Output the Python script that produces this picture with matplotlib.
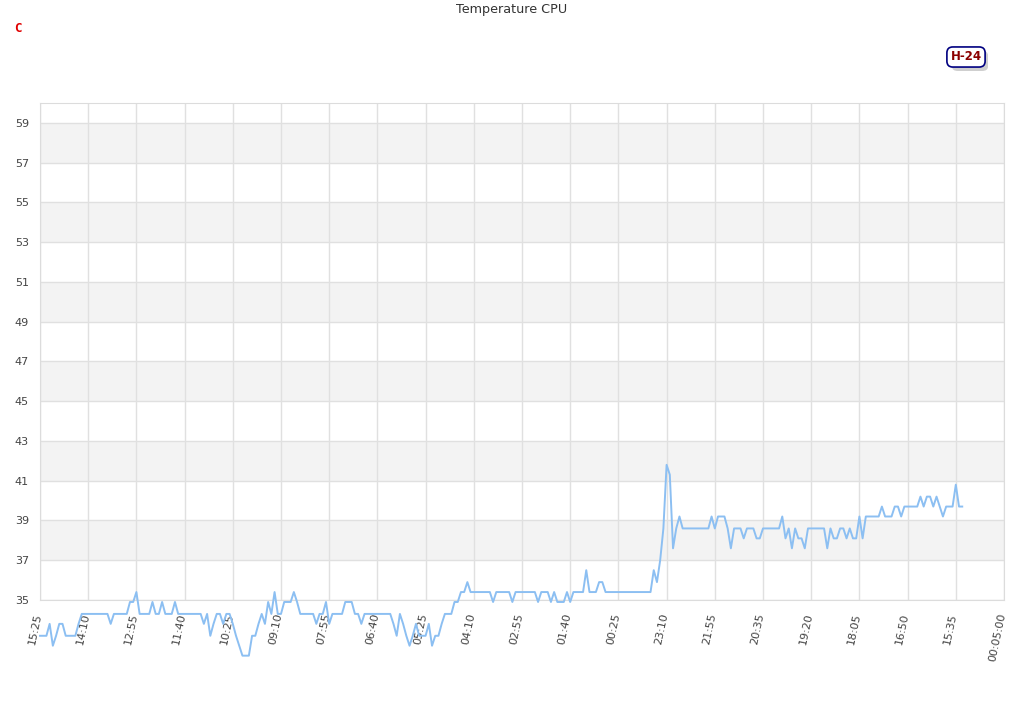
import matplotlib
matplotlib.use("Agg")
import matplotlib.pyplot as plt
from matplotlib import transforms
from matplotlib.patches import FancyBboxPatch

# temperature readings, one every 5 minutes (15 per tick interval)
temps = [
    33.2, 33.2, 33.2, 33.8, 32.7, 33.2, 33.8, 33.8, 33.2, 33.2, 33.2, 33.2, 33.8, 34.3, 34.3,
    34.3, 34.3, 34.3, 34.3, 34.3, 34.3, 34.3, 33.8, 34.3, 34.3, 34.3, 34.3, 34.3, 34.9, 34.9,
    35.4, 34.3, 34.3, 34.3, 34.3, 34.9, 34.3, 34.3, 34.9, 34.3, 34.3, 34.3, 34.9, 34.3, 34.3,
    34.3, 34.3, 34.3, 34.3, 34.3, 34.3, 33.8, 34.3, 33.2, 33.8, 34.3, 34.3, 33.8, 34.3, 34.3,
    33.8, 33.2, 32.7, 32.2, 32.2, 32.2, 33.2, 33.2, 33.8, 34.3, 33.8, 34.9, 34.3, 35.4, 34.3,
    34.3, 34.9, 34.9, 34.9, 35.4, 34.9, 34.3, 34.3, 34.3, 34.3, 34.3, 33.8, 34.3, 34.3, 34.9,
    33.8, 34.3, 34.3, 34.3, 34.3, 34.9, 34.9, 34.9, 34.3, 34.3, 33.8, 34.3, 34.3, 34.3, 34.3,
    34.3, 34.3, 34.3, 34.3, 34.3, 33.8, 33.2, 34.3, 33.8, 33.2, 32.7, 33.2, 33.8, 33.2, 33.2,
    33.2, 33.8, 32.7, 33.2, 33.2, 33.8, 34.3, 34.3, 34.3, 34.9, 34.9, 35.4, 35.4, 35.9, 35.4,
    35.4, 35.4, 35.4, 35.4, 35.4, 35.4, 34.9, 35.4, 35.4, 35.4, 35.4, 35.4, 34.9, 35.4, 35.4,
    35.4, 35.4, 35.4, 35.4, 35.4, 34.9, 35.4, 35.4, 35.4, 34.9, 35.4, 34.9, 34.9, 34.9, 35.4,
    34.9, 35.4, 35.4, 35.4, 35.4, 36.5, 35.4, 35.4, 35.4, 35.9, 35.9, 35.4, 35.4, 35.4, 35.4,
    35.4, 35.4, 35.4, 35.4, 35.4, 35.4, 35.4, 35.4, 35.4, 35.4, 35.4, 36.5, 35.9, 37.0, 38.6,
    41.8, 41.3, 37.6, 38.6, 39.2, 38.6, 38.6, 38.6, 38.6, 38.6, 38.6, 38.6, 38.6, 38.6, 39.2,
    38.6, 39.2, 39.2, 39.2, 38.6, 37.6, 38.6, 38.6, 38.6, 38.1, 38.6, 38.6, 38.6, 38.1, 38.1,
    38.6, 38.6, 38.6, 38.6, 38.6, 38.6, 39.2, 38.1, 38.6, 37.6, 38.6, 38.1, 38.1, 37.6, 38.6,
    38.6, 38.6, 38.6, 38.6, 38.6, 37.6, 38.6, 38.1, 38.1, 38.6, 38.6, 38.1, 38.6, 38.1, 38.1,
    39.2, 38.1, 39.2, 39.2, 39.2, 39.2, 39.2, 39.7, 39.2, 39.2, 39.2, 39.7, 39.7, 39.2, 39.7,
    39.7, 39.7, 39.7, 39.7, 40.2, 39.7, 40.2, 40.2, 39.7, 40.2, 39.7, 39.2, 39.7, 39.7, 39.7,
    40.8, 39.7, 39.7,
]

xlabels = ["15:25", "14:10", "12:55", "11:40", "10:25", "09:10", "07:55", "06:40",
           "05:25", "04:10", "02:55", "01:40", "00:25", "23:10", "21:55", "20:35",
           "19:20", "18:05", "16:50", "15:35", "00:05:00"]
yticks = [35, 37, 39, 41, 43, 45, 47, 49, 51, 53, 55, 57, 59]

fig = plt.figure(figsize=(10.24, 7.2), dpi=100)
ax = fig.add_axes([40/1024, 1 - 600/720, 964/1024, 497/720])

# alternating bands
for lo in yticks[1::2]:
    ax.axhspan(lo, lo + 2, color="#f3f3f3", zorder=0, lw=0)

ax.plot(range(len(temps)), temps, color="#8cbff2", lw=1.4, clip_on=False, zorder=3)

ax.set_xlim(0, 15 * (len(xlabels) - 1))
ax.set_ylim(35, 60)
ax.set_yticks(yticks)
ax.set_xticks([15 * i for i in range(len(xlabels))])
ax.set_xticklabels(xlabels, rotation=78, ha="right")
ax.grid(True, color="#e0e0e0", lw=1)
ax.set_axisbelow(True)
ax.tick_params(length=0, colors="#444444", labelsize=8)
ax.tick_params(axis="y", pad=8)
ax.tick_params(axis="x", pad=9)
for s in ax.spines.values():
    s.set_color("#dcdcdc")

# nudge x labels to the right a bit
off = transforms.ScaledTranslation(3/100, 0, fig.dpi_scale_trans)
for lbl in ax.get_xticklabels():
    lbl.set_transform(lbl.get_transform() + off)

fig.text(0.5, 1 - 9/720, "Temperature CPU", ha="center", va="center",
         fontsize=9.2, color="#333333")
fig.text(14/1024, 1 - 28/720, "C", ha="left", va="center", fontsize=9,
         color="#e00000", fontweight="bold", family="DejaVu Sans Mono")

# H-24 badge with shadow
shadow = FancyBboxPatch((952/1024, 1 - 71/720), 36/1024, 20/720,
                        boxstyle="round,pad=0,rounding_size=0.006",
                        transform=fig.transFigure, fc="#cfcfcf", ec="none")
fig.patches.append(shadow)
fig.text(966/1024, 1 - 57/720, "H-24", ha="center", va="center",
         fontsize=8.5, fontweight="bold", color="#8b0000",
         bbox=dict(boxstyle="round,pad=0.3,rounding_size=0.5", fc="white", ec="#000080", lw=1.2))

fig.savefig("out.png", dpi=100)
